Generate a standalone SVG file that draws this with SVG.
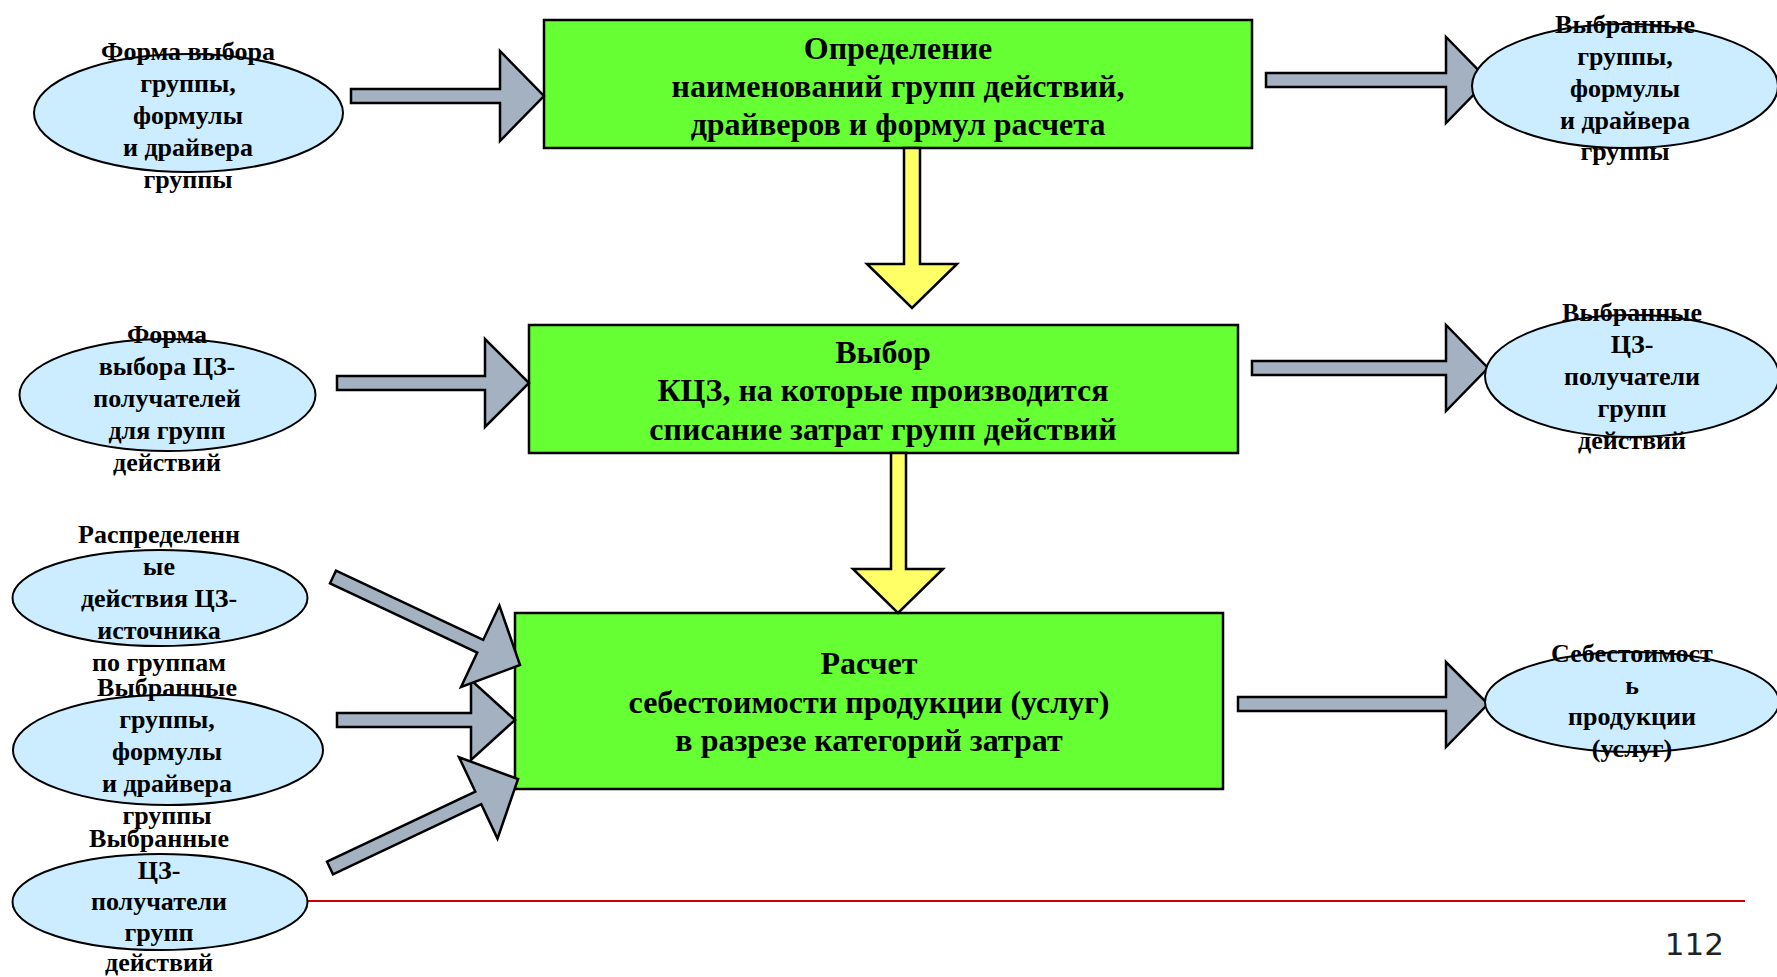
<svg xmlns="http://www.w3.org/2000/svg" width="1777" height="977" viewBox="0 0 1777 977">
<style>
.box{fill:#66FF33;stroke:#000;stroke-width:2.5}
.ell{fill:#CCECFF;stroke:#000;stroke-width:2}
.ga{fill:#A3B1C0;stroke:#000;stroke-width:2.5;stroke-linejoin:miter}
.ya{fill:#FFFF66;stroke:#000;stroke-width:2.5}
.bt{font-family:"Liberation Serif","Times New Roman",serif;font-weight:bold;font-size:32px;text-anchor:middle;fill:#000}
.et{font-family:"Liberation Serif","Times New Roman",serif;font-weight:bold;font-size:26px;text-anchor:middle;fill:#000}
.pn{font-family:"DejaVu Sans",Verdana,sans-serif;font-size:31px;text-anchor:end;fill:#222}
</style>
<rect width="1777" height="977" fill="#fff"/>
<line x1="300" y1="901" x2="1745" y2="901" stroke="#CC0000" stroke-width="2"/>
<g id="box1"><rect class="box" x="544" y="20" width="708" height="128"/>
<text class="bt" x="898" y="59">Определение</text>
<text class="bt" x="898" y="97">наименований групп действий,</text>
<text class="bt" x="898" y="135">драйверов и формул расчета</text></g>
<g id="box2"><rect class="box" x="529" y="325" width="709" height="128"/>
<text class="bt" x="883" y="363">Выбор</text>
<text class="bt" x="883" y="401">КЦЗ, на которые производится</text>
<text class="bt" x="883" y="440">списание затрат групп действий</text></g>
<g id="box3"><rect class="box" x="515" y="613" width="708" height="176"/>
<text class="bt" x="869" y="674">Расчет</text>
<text class="bt" x="869" y="713">себестоимости продукции (услуг)</text>
<text class="bt" x="869" y="751">в разрезе категорий затрат</text></g>
<g id="connectors">
<polygon class="ga" points="351,89 500,89 500,51 544,96 500,141 500,103 351,103"/>
<polygon class="ga" points="1266,73 1446,73 1446,37 1488,80 1446,123 1446,87 1266,87"/>
<polygon class="ga" points="337,376 485,376 485,339 529,383 485,427 485,390 337,390"/>
<polygon class="ga" points="1252,361 1446,361 1446,325 1488,368 1446,411 1446,375 1252,375"/>
<polygon class="ga" points="1238,697 1446,697 1446,662 1488,704 1446,747 1446,711 1238,711"/>
<polygon class="ga" points="337,713 471,713 471,680 515,720 471,760 471,727 337,727"/>
<polygon class="ga" transform="translate(333 577) rotate(25.2)" points="0,-7 162.7,-7 162.7,-45 206.7,0 162.7,45 162.7,7 0,7"/>
<polygon class="ga" transform="translate(330 868) rotate(-25.3)" points="0,-7 164,-7 164,-45 208,0 164,45 164,7 0,7"/>
<polygon class="ya" points="904,148 920,148 920,264 957,264 912,308 867,264 904,264"/>
<polygon class="ya" points="891,453 906,453 906,569 943,569 898,613 853,569 891,569"/>
</g>
<g id="e1"><ellipse class="ell" cx="188.5" cy="113" rx="154.5" ry="59"/>
<text class="et" x="188" y="60">Форма выбора</text><text class="et" x="188" y="92">группы,</text><text class="et" x="188" y="124">формулы</text><text class="et" x="188" y="156">и драйвера</text><text class="et" x="188" y="188">группы</text></g>
<g id="e2"><ellipse class="ell" cx="1625" cy="86" rx="153" ry="62"/>
<text class="et" x="1625" y="33">Выбранные</text><text class="et" x="1625" y="65">группы,</text><text class="et" x="1625" y="97">формулы</text><text class="et" x="1625" y="129">и драйвера</text><text class="et" x="1625" y="160">группы</text></g>
<g id="e3"><ellipse class="ell" cx="167.5" cy="395" rx="148" ry="56"/>
<text class="et" x="167" y="343">Форма</text><text class="et" x="167" y="375">выбора ЦЗ-</text><text class="et" x="167" y="407">получателей</text><text class="et" x="167" y="439">для групп</text><text class="et" x="167" y="471">действий</text></g>
<g id="e4"><ellipse class="ell" cx="1632" cy="376" rx="147" ry="61"/>
<text class="et" x="1632" y="321">Выбранные</text><text class="et" x="1632" y="353">ЦЗ-</text><text class="et" x="1632" y="385">получатели</text><text class="et" x="1632" y="417">групп</text><text class="et" x="1632" y="449">действий</text></g>
<g id="e5"><ellipse class="ell" cx="160" cy="598" rx="147.5" ry="48"/>
<text class="et" x="159" y="543">Распределенн</text><text class="et" x="159" y="575">ые</text><text class="et" x="159" y="607">действия ЦЗ-</text><text class="et" x="159" y="639">источника</text><text class="et" x="159" y="671">по группам</text></g>
<g id="e6"><ellipse class="ell" cx="168" cy="750" rx="155" ry="55"/>
<text class="et" x="167" y="696">Выбранные</text><text class="et" x="167" y="728">группы,</text><text class="et" x="167" y="760">формулы</text><text class="et" x="167" y="792">и драйвера</text><text class="et" x="167" y="824">группы</text></g>
<g id="e7"><ellipse class="ell" cx="160" cy="902" rx="147.5" ry="48"/>
<text class="et" x="159" y="847">Выбранные</text><text class="et" x="159" y="879">ЦЗ-</text><text class="et" x="159" y="910">получатели</text><text class="et" x="159" y="941">групп</text><text class="et" x="159" y="971">действий</text></g>
<g id="e8"><ellipse class="ell" cx="1632" cy="702" rx="147" ry="50"/>
<text class="et" x="1632" y="662">Себестоимост</text><text class="et" x="1632" y="694">ь</text><text class="et" x="1632" y="725">продукции</text><text class="et" x="1632" y="757">(услуг)</text></g>
<text class="pn" x="1724" y="955">112</text>
</svg>
